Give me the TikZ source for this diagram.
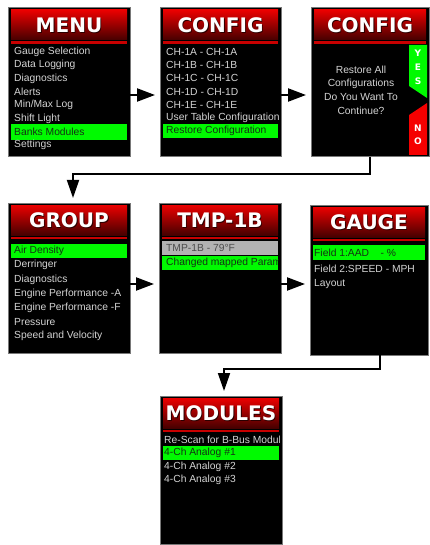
\documentclass[tikz,border=0pt]{standalone}
\usepackage{fontspec}
\setmainfont{Liberation Sans}
\newfontfamily\hdrfont{DejaVu Sans}
\usetikzlibrary{arrows.meta,calc}
\definecolor{scrgreen}{RGB}{0,250,0}
\definecolor{hdrtop}{RGB}{235,0,0}
\definecolor{hdrmid}{RGB}{185,0,0}
\definecolor{hdrbot}{RGB}{70,0,0}
\definecolor{hdrline}{RGB}{200,0,0}
\definecolor{txtgray}{RGB}{212,212,212}
\definecolor{rowgray}{RGB}{178,178,178}
\definecolor{txtdark}{RGB}{20,50,20}
\definecolor{framegray}{RGB}{120,120,120}
\definecolor{norred}{RGB}{245,0,0}
\tikzset{
  screen/.style={draw=framegray, fill=black, line width=1pt, inner sep=0pt, outer sep=0pt},
  hdrtext/.style={text=white, font=\hdrfont\bfseries\fontsize{20}{22}\selectfont, inner sep=0pt},
  item/.style={text=txtgray, font=\fontsize{10.3}{12}\selectfont, anchor=west, inner sep=0pt},
  itemdark/.style={item, text=txtdark},
  ctext/.style={text=txtgray, font=\fontsize{10.3}{12}\selectfont, inner sep=0pt},
  tabtext/.style={text=white, font=\hdrfont\bfseries\fontsize{9}{10}\selectfont, inner sep=0pt},
  arr/.style={line width=2.2pt, -{Triangle[length=18pt,width=13pt]}, shorten >=5pt},
  conn/.style={line width=1.8pt, -{Triangle[length=18pt,width=12pt]}, shorten >=5pt}
}
\newcommand{\mkscreen}[6]{%
  \node[screen, minimum width=#4pt, minimum height=#5pt, anchor=north west] (#1) at (#2,#3) {};
  \shade[top color=hdrtop, middle color=hdrmid, bottom color=hdrbot]
    ($(#1.north west)+(3,2)$) rectangle ($(#1.north east)+(-3,32)$);
  \fill[hdrline] ($(#1.north west)+(3,33.5)$) rectangle ($(#1.north east)+(-3,36)$);
  \node[hdrtext, text=hdrbot!60!black] (#1-shadow) at ($(#1.north)+(0.8,18.3)$) {#6};
  \node[hdrtext] (#1-title) at ($(#1.north)+(0,17.5)$) {#6};
}
\begin{document}
\begin{tikzpicture}[x=1pt,y=-1pt]
\useasboundingbox (0,0) rectangle (430,545);

% ---------- row 1 ----------
\mkscreen{menu}{8}{8}{122}{149}{MENU}
\mkscreen{config}{160}{8}{121}{149}{CONFIG}
\mkscreen{confirm}{311}{8}{118}{149}{CONFIG}
% ---------- row 2 ----------
\mkscreen{group}{8}{203}{122}{150}{GROUP}
\mkscreen{tmp}{159}{203}{122}{150}{TMP-1B}
\mkscreen{gauge}{310}{205}{118}{150}{GAUGE}
% ---------- row 3 ----------
\mkscreen{modules}{160}{396}{122}{148}{MODULES}

% MENU list
\begin{scope}
\clip ($(menu.north west)+(3,37)$) rectangle ($(menu.south east)+(-3,-2)$);
\fill[scrgreen] ($(menu.north west)+(3,116)$) rectangle ($(menu.north east)+(-3,132)$);
\foreach \t [count=\i] in {Gauge Selection, Data Logging, Diagnostics, Alerts, Min/Max Log, Shift Light}
  \node[item] (menu-\i) at ($(menu.north west)+(6,{44+(\i-1)*13.3})$) {\t};
\node[itemdark] (menu-7) at ($(menu.north west)+(6,124)$) {Banks Modules};
\node[item] (menu-8) at ($(menu.north west)+(6,137.3)$) {Settings};
\end{scope}

% CONFIG list
\begin{scope}
\clip ($(config.north west)+(3,37)$) rectangle ($(config.south east)+(-3,-2)$);
\fill[scrgreen] ($(config.north west)+(3,116)$) rectangle ($(config.north east)+(-3,130)$);
\foreach \t [count=\i] in {CH-1A - CH-1A, CH-1B - CH-1B, CH-1C - CH-1C, CH-1D - CH-1D, CH-1E - CH-1E, User Table Configuration}
  \node[item] (config-\i) at ($(config.north west)+(6,{44+(\i-1)*13.2})$) {\t};
\node[itemdark] (config-7) at ($(config.north west)+(6,123)$) {Restore Configuration};
\end{scope}

% CONFIRM screen
\fill[scrgreen] (409,45) -- (427,45) -- (427,98) -- (409,86) -- cycle;
\fill[norred] (409,115) -- (427,103) -- (427,155) -- (409,155) -- cycle;
\node[tabtext] (yes-y) at (418,53) {Y};
\node[tabtext] (yes-e) at (418,67) {E};
\node[tabtext] (yes-s) at (418,81) {S};
\node[tabtext] (no-n) at (418,128) {N};
\node[tabtext] (no-o) at (418,141) {O};
\node[ctext] (cf-1) at (361,70) {Restore All};
\node[ctext] (cf-2) at (361,83.5) {Configurations};
\node[ctext] (cf-3) at (361,97) {Do You Want To};
\node[ctext] (cf-4) at (361,110.5) {Continue?};

% GROUP list
\begin{scope}
\clip ($(group.north west)+(3,37)$) rectangle ($(group.south east)+(-3,-2)$);
\fill[scrgreen] ($(group.north west)+(3,41)$) rectangle ($(group.north east)+(-3,55)$);
\node[itemdark] (group-1) at ($(group.north west)+(6,48)$) {Air Density};
\foreach \t [count=\i from 2] in {Derringer, Diagnostics, Engine Performance -A, Engine Performance -F, Pressure, Speed and Velocity}
  \node[item] (group-\i) at ($(group.north west)+(6,{48+(\i-1)*14.2})$) {\t};
\end{scope}

% TMP-1B list
\begin{scope}
\clip ($(tmp.north west)+(3,37)$) rectangle ($(tmp.south east)+(-3,-2)$);
\fill[rowgray] ($(tmp.north west)+(3,37.5)$) rectangle ($(tmp.north east)+(-3,52)$);
\fill[scrgreen] ($(tmp.north west)+(3,53)$) rectangle ($(tmp.north east)+(-3,67)$);
\node[item, text=black!70] (tmp-1) at ($(tmp.north west)+(7,44.5)$) {TMP-1B - 79°F};
\node[itemdark] (tmp-2) at ($(tmp.north west)+(7,60)$) {Changed mapped Parameter};
\end{scope}

% GAUGE list
\begin{scope}
\clip ($(gauge.north west)+(3,37)$) rectangle ($(gauge.south east)+(-3,-2)$);
\fill[scrgreen] ($(gauge.north west)+(3,40)$) rectangle ($(gauge.north east)+(-3,55)$);
\node[itemdark] (gauge-1) at ($(gauge.north west)+(4,47.5)$) {Field 1:AAD\ \ \ \ - \%};
\node[item] (gauge-2) at ($(gauge.north west)+(4,64)$) {Field 2:SPEED - MPH};
\node[item] (gauge-3) at ($(gauge.north west)+(4,79)$) {Layout};
\end{scope}

% MODULES list
\begin{scope}
\clip ($(modules.north west)+(3,37)$) rectangle ($(modules.south east)+(-3,-2)$);
\fill[scrgreen] ($(modules.north west)+(3,50)$) rectangle ($(modules.north east)+(-3,64)$);
\node[item] (mod-1) at ($(modules.north west)+(4,44)$) {Re-Scan for B-Bus Modules};
\node[itemdark] (mod-2) at ($(modules.north west)+(4,57)$) {4-Ch Analog \#1};
\node[item] (mod-3) at ($(modules.north west)+(4,71)$) {4-Ch Analog \#2};
\node[item] (mod-4) at ($(modules.north west)+(4,84)$) {4-Ch Analog \#3};
\end{scope}

% ---------- connectors ----------
\draw[arr] (menu.east |- 0,95) -- (config.west |- 0,95);
\draw[arr] (config.east |- 0,95) -- (confirm.west |- 0,95);
\draw[arr] (group.east |- 0,284) -- (tmp.west |- 0,284);
\draw[arr] (tmp.east |- 0,284) -- (gauge.west |- 0,284);
\coordinate (c1) at ($(confirm.south)+(0,17)$);
\draw[conn] (confirm.south) -- (c1) -| ([xshift=4pt]group.north);
\coordinate (g0) at ([xshift=11pt]gauge.south);
\coordinate (g1) at ($(g0)+(0,14)$);
\draw[conn] (g0) -- (g1) -| ([xshift=3pt]modules.north);
\end{tikzpicture}
\end{document}
